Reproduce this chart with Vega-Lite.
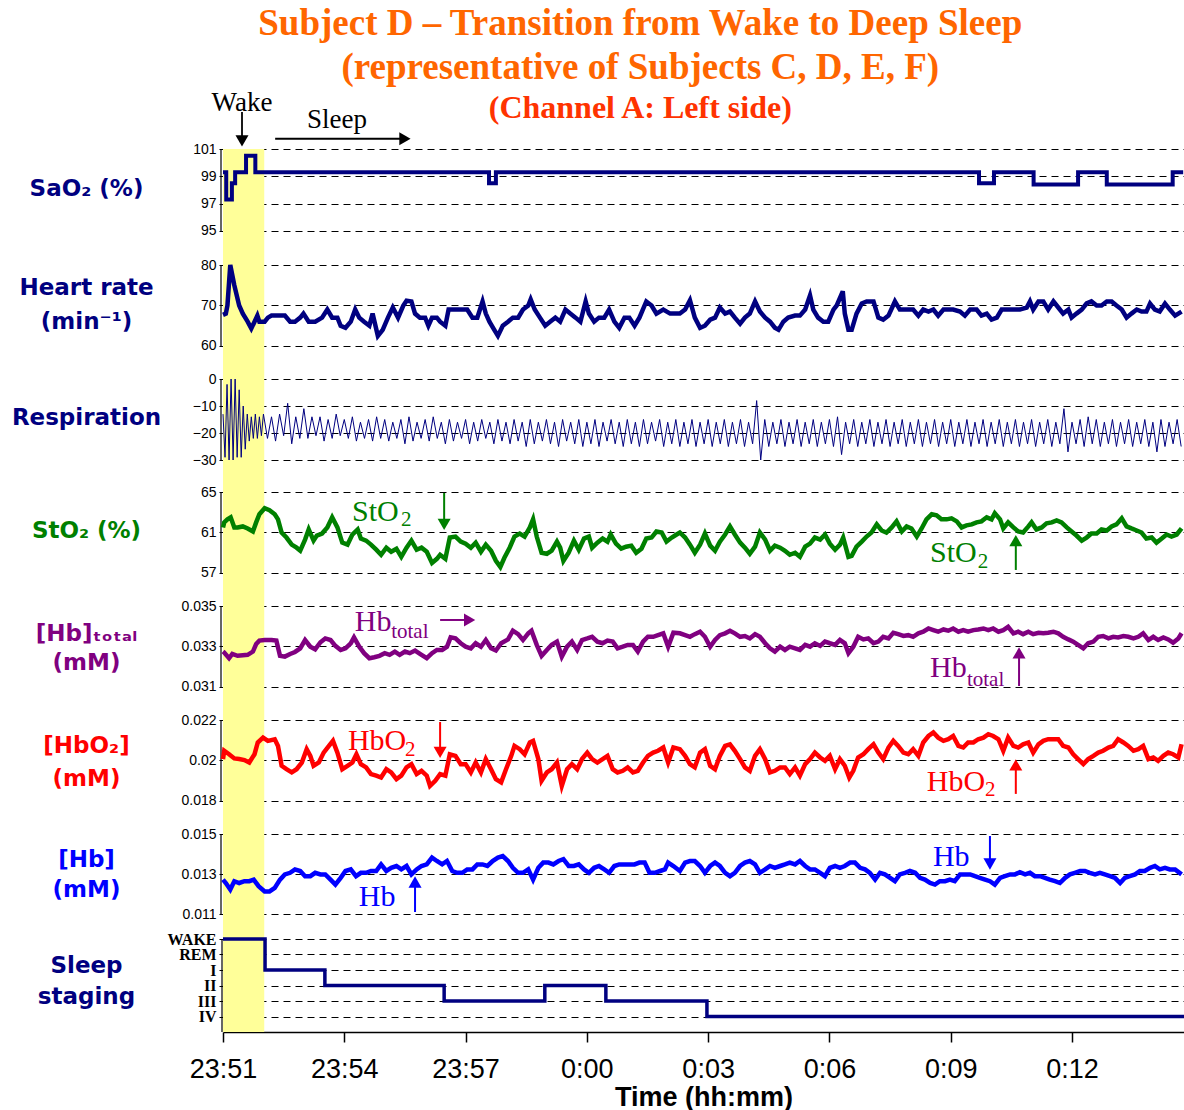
{
"$schema":"https://vega.github.io/schema/vega-lite/v6.json",
"padding":{"left":11,"top":4,"right":0,"bottom":0},
"background":"white",
"title":{"text":["Subject D – Transition from Wake to Deep Sleep","(representative of Subjects C, D, E, F)"],"subtitle":"(Channel A: Left side)","font":"Liberation Serif","fontSize":37,"fontWeight":"bold","color":"#FF6600","lineHeight":44,"subtitleFont":"Liberation Serif","subtitleFontSize":32,"subtitleFontWeight":"bold","subtitleColor":"#FF3300","subtitlePadding":6,"anchor":"middle","offset":-36,"dx":39},
"datasets":{
"sao2":[{"t":0,"v":99.3},{"t":0.08,"v":97.3},{"t":0.22,"v":98.5},{"t":0.3,"v":99.3},{"t":0.57,"v":100.5},{"t":0.8,"v":99.3},{"t":6.58,"v":98.5},{"t":6.75,"v":99.3},{"t":18.7,"v":98.5},{"t":19.07,"v":99.3},{"t":20.05,"v":98.4},{"t":21.15,"v":99.3},{"t":21.86,"v":98.4},{"t":23.49,"v":99.3},{"t":23.75,"v":99.3}],
"hr":[{"t":0,"v":67.7},{"t":0.07,"v":68},{"t":0.11,"v":70},{"t":0.18,"v":80},{"t":0.28,"v":75},{"t":0.4,"v":70},{"t":0.49,"v":68},{"t":0.61,"v":66},{"t":0.7,"v":64.3},{"t":0.78,"v":66},{"t":0.85,"v":67.5},{"t":0.9,"v":66},{"t":1.03,"v":66},{"t":1.11,"v":67},{"t":1.2,"v":67.5},{"t":1.36,"v":67.5},{"t":1.53,"v":67.5},{"t":1.66,"v":66},{"t":1.78,"v":66},{"t":1.91,"v":67},{"t":1.99,"v":68},{"t":2.12,"v":66},{"t":2.28,"v":66},{"t":2.45,"v":67},{"t":2.58,"v":69},{"t":2.7,"v":67},{"t":2.83,"v":67},{"t":2.91,"v":65},{"t":3.03,"v":64.5},{"t":3.16,"v":66},{"t":3.27,"v":69},{"t":3.37,"v":67},{"t":3.49,"v":66},{"t":3.62,"v":65},{"t":3.7,"v":68},{"t":3.83,"v":62.5},{"t":3.95,"v":64},{"t":4.08,"v":67},{"t":4.2,"v":69.5},{"t":4.33,"v":67},{"t":4.46,"v":70},{"t":4.54,"v":71.2},{"t":4.66,"v":71},{"t":4.75,"v":68},{"t":4.87,"v":67},{"t":5,"v":67},{"t":5.08,"v":65},{"t":5.17,"v":67},{"t":5.29,"v":67},{"t":5.37,"v":66},{"t":5.5,"v":65},{"t":5.58,"v":69},{"t":5.71,"v":69},{"t":5.88,"v":69},{"t":6.04,"v":69},{"t":6.17,"v":67},{"t":6.29,"v":67},{"t":6.42,"v":71},{"t":6.5,"v":68},{"t":6.59,"v":66},{"t":6.71,"v":64},{"t":6.8,"v":62.5},{"t":6.92,"v":65},{"t":7.05,"v":66},{"t":7.17,"v":67},{"t":7.3,"v":67},{"t":7.42,"v":69},{"t":7.55,"v":70},{"t":7.61,"v":71.5},{"t":7.71,"v":69},{"t":7.84,"v":67},{"t":7.97,"v":65},{"t":8.09,"v":66},{"t":8.22,"v":67},{"t":8.34,"v":66},{"t":8.47,"v":69},{"t":8.59,"v":68},{"t":8.72,"v":67},{"t":8.84,"v":66},{"t":8.97,"v":71},{"t":9.05,"v":68},{"t":9.18,"v":66},{"t":9.3,"v":67},{"t":9.43,"v":67},{"t":9.55,"v":69},{"t":9.68,"v":66},{"t":9.8,"v":64.5},{"t":9.93,"v":67},{"t":10.05,"v":67},{"t":10.18,"v":65},{"t":10.3,"v":67},{"t":10.47,"v":71},{"t":10.6,"v":70},{"t":10.72,"v":68},{"t":10.89,"v":69},{"t":11.06,"v":68},{"t":11.22,"v":68},{"t":11.3,"v":68},{"t":11.43,"v":69},{"t":11.55,"v":71.3},{"t":11.67,"v":67},{"t":11.8,"v":64.5},{"t":11.92,"v":65},{"t":12.05,"v":66.5},{"t":12.17,"v":67},{"t":12.29,"v":69.5},{"t":12.42,"v":68},{"t":12.54,"v":68.5},{"t":12.66,"v":67},{"t":12.79,"v":65.5},{"t":12.91,"v":67},{"t":13.03,"v":68},{"t":13.16,"v":71},{"t":13.28,"v":68.5},{"t":13.41,"v":67},{"t":13.53,"v":66},{"t":13.65,"v":64.5},{"t":13.74,"v":64},{"t":13.86,"v":66},{"t":13.98,"v":67},{"t":14.15,"v":67.5},{"t":14.27,"v":67.5},{"t":14.4,"v":69},{"t":14.52,"v":72.5},{"t":14.6,"v":69},{"t":14.72,"v":67},{"t":14.85,"v":66},{"t":14.97,"v":66},{"t":15.1,"v":69},{"t":15.18,"v":70},{"t":15.33,"v":73.5},{"t":15.38,"v":68},{"t":15.47,"v":64},{"t":15.55,"v":64},{"t":15.67,"v":68},{"t":15.8,"v":70.5},{"t":15.92,"v":71},{"t":16.09,"v":71},{"t":16.21,"v":67},{"t":16.33,"v":66.5},{"t":16.46,"v":67.5},{"t":16.62,"v":71},{"t":16.74,"v":69},{"t":16.91,"v":69},{"t":17.07,"v":69},{"t":17.2,"v":67.5},{"t":17.32,"v":69},{"t":17.45,"v":68.5},{"t":17.57,"v":69},{"t":17.69,"v":67.5},{"t":17.82,"v":69},{"t":17.94,"v":69},{"t":18.06,"v":69},{"t":18.23,"v":68.5},{"t":18.35,"v":67.5},{"t":18.48,"v":69},{"t":18.64,"v":69},{"t":18.76,"v":67.5},{"t":18.89,"v":68},{"t":19.01,"v":66.5},{"t":19.14,"v":67},{"t":19.26,"v":69},{"t":19.42,"v":69},{"t":19.55,"v":69},{"t":19.71,"v":69},{"t":19.88,"v":69.5},{"t":19.96,"v":71},{"t":20.04,"v":69},{"t":20.17,"v":71},{"t":20.29,"v":71},{"t":20.41,"v":69},{"t":20.54,"v":71},{"t":20.66,"v":69.5},{"t":20.78,"v":68},{"t":20.91,"v":69},{"t":20.99,"v":67},{"t":21.11,"v":68},{"t":21.24,"v":69},{"t":21.36,"v":70.5},{"t":21.48,"v":71},{"t":21.61,"v":70},{"t":21.73,"v":70},{"t":21.86,"v":71},{"t":21.98,"v":71},{"t":22.1,"v":70},{"t":22.23,"v":69},{"t":22.35,"v":67},{"t":22.47,"v":68},{"t":22.6,"v":69},{"t":22.72,"v":68.5},{"t":22.84,"v":68.5},{"t":22.93,"v":70.5},{"t":23.05,"v":69},{"t":23.17,"v":68.5},{"t":23.3,"v":70.5},{"t":23.42,"v":69},{"t":23.55,"v":67.5},{"t":23.71,"v":68.5}],
"resp":[{"t":0,"v":-13},{"t":0.05,"v":-29},{"t":0.1,"v":-2},{"t":0.15,"v":-30},{"t":0.2,"v":0},{"t":0.25,"v":-30},{"t":0.3,"v":0},{"t":0.35,"v":-29},{"t":0.4,"v":-4},{"t":0.45,"v":-29},{"t":0.5,"v":-10},{"t":0.55,"v":-26},{"t":0.6,"v":-13},{"t":0.65,"v":-23},{"t":0.7,"v":-14},{"t":0.75,"v":-22},{"t":0.8,"v":-13},{"t":0.85,"v":-22},{"t":0.9,"v":-14},{"t":0.95,"v":-21},
{"t":1.0,"v":-13},{"t":1.1,"v":-22},{"t":1.2,"v":-14},{"t":1.3,"v":-23},{"t":1.4,"v":-13},{"t":1.5,"v":-21},{"t":1.6,"v":-9},{"t":1.7,"v":-24},{"t":1.8,"v":-14},{"t":1.9,"v":-22},
{"t":2.0,"v":-11},{"t":2.1,"v":-22},{"t":2.2,"v":-14},{"t":2.3,"v":-21},{"t":2.4,"v":-14},{"t":2.5,"v":-23},{"t":2.6,"v":-15},{"t":2.7,"v":-22},{"t":2.8,"v":-13},{"t":2.9,"v":-21},
{"t":3.0,"v":-15},{"t":3.1,"v":-22},{"t":3.2,"v":-14},{"t":3.3,"v":-23},{"t":3.4,"v":-16},{"t":3.5,"v":-22},{"t":3.6,"v":-15},{"t":3.7,"v":-23},{"t":3.8,"v":-14},{"t":3.9,"v":-22},
{"t":4.0,"v":-15},{"t":4.1,"v":-23},{"t":4.2,"v":-16},{"t":4.3,"v":-22},{"t":4.4,"v":-15},{"t":4.5,"v":-24},{"t":4.6,"v":-14},{"t":4.7,"v":-23},{"t":4.8,"v":-16},{"t":4.9,"v":-22},
{"t":5.0,"v":-15},{"t":5.1,"v":-23},{"t":5.2,"v":-14},{"t":5.3,"v":-22},{"t":5.4,"v":-16},{"t":5.5,"v":-24},{"t":5.6,"v":-15},{"t":5.7,"v":-23},{"t":5.8,"v":-16},{"t":5.9,"v":-22},
{"t":6.0,"v":-15},{"t":6.1,"v":-24},{"t":6.2,"v":-16},{"t":6.3,"v":-23},{"t":6.4,"v":-15},{"t":6.5,"v":-22},{"t":6.6,"v":-16},{"t":6.7,"v":-24},{"t":6.8,"v":-15},{"t":6.9,"v":-23},
{"t":7.0,"v":-16},{"t":7.1,"v":-24},{"t":7.2,"v":-15},{"t":7.3,"v":-23},{"t":7.4,"v":-16},{"t":7.5,"v":-25},{"t":7.6,"v":-15},{"t":7.7,"v":-24},{"t":7.8,"v":-16},{"t":7.9,"v":-23},
{"t":8.0,"v":-15},{"t":8.1,"v":-24},{"t":8.2,"v":-16},{"t":8.3,"v":-25},{"t":8.4,"v":-15},{"t":8.5,"v":-23},{"t":8.6,"v":-16},{"t":8.7,"v":-24},{"t":8.8,"v":-15},{"t":8.9,"v":-25},
{"t":9.0,"v":-16},{"t":9.1,"v":-24},{"t":9.2,"v":-15},{"t":9.3,"v":-25},{"t":9.4,"v":-16},{"t":9.5,"v":-23},{"t":9.6,"v":-15},{"t":9.7,"v":-24},{"t":9.8,"v":-16},{"t":9.9,"v":-25},
{"t":10.0,"v":-15},{"t":10.1,"v":-24},{"t":10.2,"v":-16},{"t":10.3,"v":-25},{"t":10.4,"v":-15},{"t":10.5,"v":-24},{"t":10.6,"v":-16},{"t":10.7,"v":-23},{"t":10.8,"v":-15},{"t":10.9,"v":-25},
{"t":11.0,"v":-16},{"t":11.1,"v":-24},{"t":11.2,"v":-15},{"t":11.3,"v":-25},{"t":11.4,"v":-16},{"t":11.5,"v":-24},{"t":11.6,"v":-15},{"t":11.7,"v":-25},{"t":11.8,"v":-16},{"t":11.9,"v":-24},
{"t":12.0,"v":-15},{"t":12.1,"v":-25},{"t":12.2,"v":-16},{"t":12.3,"v":-24},{"t":12.4,"v":-15},{"t":12.5,"v":-25},{"t":12.6,"v":-16},{"t":12.7,"v":-24},{"t":12.8,"v":-15},{"t":12.9,"v":-25},
{"t":13.0,"v":-16},{"t":13.1,"v":-24},{"t":13.2,"v":-8},{"t":13.3,"v":-30},{"t":13.4,"v":-15},{"t":13.5,"v":-25},{"t":13.6,"v":-16},{"t":13.7,"v":-24},{"t":13.8,"v":-15},{"t":13.9,"v":-25},
{"t":14.0,"v":-16},{"t":14.1,"v":-24},{"t":14.2,"v":-15},{"t":14.3,"v":-25},{"t":14.4,"v":-16},{"t":14.5,"v":-24},{"t":14.6,"v":-15},{"t":14.7,"v":-25},{"t":14.8,"v":-16},{"t":14.9,"v":-24},
{"t":15.0,"v":-15},{"t":15.1,"v":-25},{"t":15.2,"v":-14},{"t":15.3,"v":-28},{"t":15.4,"v":-16},{"t":15.5,"v":-24},{"t":15.6,"v":-15},{"t":15.7,"v":-25},{"t":15.8,"v":-16},{"t":15.9,"v":-24},
{"t":16.0,"v":-15},{"t":16.1,"v":-25},{"t":16.2,"v":-16},{"t":16.3,"v":-24},{"t":16.4,"v":-15},{"t":16.5,"v":-25},{"t":16.6,"v":-16},{"t":16.7,"v":-24},{"t":16.8,"v":-15},{"t":16.9,"v":-25},
{"t":17.0,"v":-16},{"t":17.1,"v":-24},{"t":17.2,"v":-15},{"t":17.3,"v":-25},{"t":17.4,"v":-16},{"t":17.5,"v":-24},{"t":17.6,"v":-15},{"t":17.7,"v":-25},{"t":17.8,"v":-16},{"t":17.9,"v":-24},
{"t":18.0,"v":-15},{"t":18.1,"v":-25},{"t":18.2,"v":-16},{"t":18.3,"v":-24},{"t":18.4,"v":-15},{"t":18.5,"v":-25},{"t":18.6,"v":-16},{"t":18.7,"v":-24},{"t":18.8,"v":-15},{"t":18.9,"v":-25},
{"t":19.0,"v":-16},{"t":19.1,"v":-24},{"t":19.2,"v":-15},{"t":19.3,"v":-25},{"t":19.4,"v":-16},{"t":19.5,"v":-24},{"t":19.6,"v":-15},{"t":19.7,"v":-25},{"t":19.8,"v":-16},{"t":19.9,"v":-24},
{"t":20.0,"v":-15},{"t":20.1,"v":-25},{"t":20.2,"v":-16},{"t":20.3,"v":-24},{"t":20.4,"v":-15},{"t":20.5,"v":-25},{"t":20.6,"v":-16},{"t":20.7,"v":-24},{"t":20.8,"v":-11},{"t":20.9,"v":-27},
{"t":21.0,"v":-16},{"t":21.1,"v":-24},{"t":21.2,"v":-15},{"t":21.3,"v":-25},{"t":21.4,"v":-14},{"t":21.5,"v":-24},{"t":21.6,"v":-15},{"t":21.7,"v":-25},{"t":21.8,"v":-16},{"t":21.9,"v":-24},
{"t":22.0,"v":-15},{"t":22.1,"v":-25},{"t":22.2,"v":-16},{"t":22.3,"v":-24},{"t":22.4,"v":-15},{"t":22.5,"v":-25},{"t":22.6,"v":-16},{"t":22.7,"v":-24},{"t":22.8,"v":-15},{"t":22.9,"v":-25},
{"t":23.0,"v":-16},{"t":23.1,"v":-27},{"t":23.2,"v":-15},{"t":23.3,"v":-25},{"t":23.4,"v":-16},{"t":23.5,"v":-24},{"t":23.6,"v":-15},{"t":23.7,"v":-25}],
"sto2":[{"t":0,"v":61.5},{"t":0.03,"v":62.0},{"t":0.11,"v":62.3},{"t":0.19,"v":62.5},{"t":0.28,"v":61.5},{"t":0.36,"v":61.5},{"t":0.49,"v":61.6},{"t":0.61,"v":61.4},{"t":0.74,"v":61.1},{"t":0.82,"v":62.0},{"t":0.9,"v":62.8},{"t":1.03,"v":63.4},{"t":1.15,"v":63.2},{"t":1.28,"v":62.8},{"t":1.36,"v":62.3},{"t":1.45,"v":61.0},{"t":1.57,"v":60.5},{"t":1.7,"v":59.8},{"t":1.82,"v":59.5},{"t":1.91,"v":59.2},{"t":2.03,"v":60.3},{"t":2.12,"v":61.3},{"t":2.24,"v":60.2},{"t":2.32,"v":60.7},{"t":2.45,"v":60.9},{"t":2.58,"v":61.5},{"t":2.7,"v":62.5},{"t":2.83,"v":61.5},{"t":2.95,"v":60.0},{"t":3.08,"v":59.8},{"t":3.2,"v":60.8},{"t":3.33,"v":61.3},{"t":3.41,"v":60.4},{"t":3.54,"v":60.2},{"t":3.66,"v":59.8},{"t":3.79,"v":59.3},{"t":3.91,"v":58.8},{"t":4.04,"v":59.5},{"t":4.16,"v":59.1},{"t":4.29,"v":59.4},{"t":4.41,"v":58.6},{"t":4.54,"v":59.5},{"t":4.66,"v":60.2},{"t":4.79,"v":59.3},{"t":4.91,"v":59.5},{"t":5.04,"v":59.1},{"t":5.17,"v":58.0},{"t":5.29,"v":58.4},{"t":5.37,"v":58.8},{"t":5.5,"v":58.4},{"t":5.61,"v":60.5},{"t":5.75,"v":60.6},{"t":5.88,"v":60.1},{"t":6.0,"v":59.9},{"t":6.13,"v":59.5},{"t":6.25,"v":60.0},{"t":6.38,"v":59.1},{"t":6.5,"v":59.8},{"t":6.63,"v":59.2},{"t":6.75,"v":58.2},{"t":6.86,"v":57.6},{"t":6.96,"v":58.5},{"t":7.09,"v":59.5},{"t":7.21,"v":60.6},{"t":7.34,"v":60.9},{"t":7.46,"v":60.6},{"t":7.59,"v":61.5},{"t":7.67,"v":62.3},{"t":7.76,"v":60.6},{"t":7.88,"v":59.0},{"t":8.01,"v":58.9},{"t":8.13,"v":59.2},{"t":8.26,"v":60.1},{"t":8.34,"v":59.5},{"t":8.42,"v":58.2},{"t":8.55,"v":59.0},{"t":8.68,"v":60.2},{"t":8.8,"v":59.3},{"t":8.93,"v":60.4},{"t":9.05,"v":60.6},{"t":9.13,"v":59.5},{"t":9.26,"v":60.0},{"t":9.39,"v":60.4},{"t":9.51,"v":60.1},{"t":9.59,"v":60.8},{"t":9.72,"v":59.9},{"t":9.85,"v":59.4},{"t":9.97,"v":59.6},{"t":10.1,"v":59.7},{"t":10.22,"v":59.0},{"t":10.35,"v":59.4},{"t":10.47,"v":60.4},{"t":10.6,"v":60.5},{"t":10.72,"v":61.1},{"t":10.85,"v":61.0},{"t":10.97,"v":60.1},{"t":11.1,"v":60.5},{"t":11.22,"v":60.8},{"t":11.3,"v":61.0},{"t":11.43,"v":60.5},{"t":11.55,"v":59.8},{"t":11.67,"v":59.0},{"t":11.8,"v":59.8},{"t":11.92,"v":60.9},{"t":12.05,"v":59.7},{"t":12.17,"v":59.2},{"t":12.29,"v":60.1},{"t":12.42,"v":60.8},{"t":12.54,"v":61.6},{"t":12.66,"v":60.8},{"t":12.79,"v":60.0},{"t":12.91,"v":59.5},{"t":13.03,"v":58.9},{"t":13.16,"v":59.6},{"t":13.28,"v":61.0},{"t":13.41,"v":60.3},{"t":13.53,"v":59.2},{"t":13.65,"v":59.7},{"t":13.78,"v":59.5},{"t":13.9,"v":59.2},{"t":14.02,"v":58.8},{"t":14.15,"v":59.0},{"t":14.27,"v":58.6},{"t":14.4,"v":59.6},{"t":14.52,"v":59.9},{"t":14.64,"v":60.5},{"t":14.77,"v":60.3},{"t":14.89,"v":60.8},{"t":15.01,"v":59.9},{"t":15.14,"v":59.3},{"t":15.26,"v":59.8},{"t":15.34,"v":60.5},{"t":15.47,"v":58.6},{"t":15.55,"v":58.7},{"t":15.67,"v":59.6},{"t":15.8,"v":60.1},{"t":15.92,"v":60.6},{"t":16.04,"v":61.0},{"t":16.17,"v":61.8},{"t":16.29,"v":61.2},{"t":16.41,"v":61.0},{"t":16.54,"v":61.5},{"t":16.66,"v":62.1},{"t":16.79,"v":61.1},{"t":16.91,"v":61.6},{"t":17.03,"v":61.4},{"t":17.16,"v":60.6},{"t":17.28,"v":61.4},{"t":17.4,"v":62.3},{"t":17.53,"v":62.8},{"t":17.65,"v":62.7},{"t":17.77,"v":62.3},{"t":17.9,"v":62.3},{"t":18.02,"v":62.4},{"t":18.15,"v":62.1},{"t":18.27,"v":61.5},{"t":18.39,"v":61.7},{"t":18.52,"v":61.8},{"t":18.64,"v":62.0},{"t":18.76,"v":62.1},{"t":18.89,"v":62.5},{"t":19.01,"v":62.3},{"t":19.09,"v":62.9},{"t":19.22,"v":62.3},{"t":19.3,"v":61.4},{"t":19.42,"v":62.0},{"t":19.55,"v":61.5},{"t":19.67,"v":61.1},{"t":19.79,"v":61.0},{"t":19.92,"v":61.6},{"t":20.0,"v":62.0},{"t":20.12,"v":61.3},{"t":20.25,"v":61.5},{"t":20.37,"v":61.9},{"t":20.5,"v":62.0},{"t":20.62,"v":62.2},{"t":20.74,"v":62.0},{"t":20.87,"v":61.5},{"t":20.99,"v":61.1},{"t":21.11,"v":60.7},{"t":21.24,"v":60.2},{"t":21.36,"v":60.5},{"t":21.48,"v":60.9},{"t":21.61,"v":60.9},{"t":21.73,"v":61.3},{"t":21.86,"v":61.2},{"t":21.98,"v":61.6},{"t":22.1,"v":61.8},{"t":22.23,"v":62.4},{"t":22.35,"v":61.6},{"t":22.47,"v":61.4},{"t":22.6,"v":61.2},{"t":22.72,"v":61.0},{"t":22.84,"v":60.4},{"t":22.97,"v":60.5},{"t":23.09,"v":60.0},{"t":23.22,"v":60.4},{"t":23.34,"v":60.8},{"t":23.46,"v":60.6},{"t":23.59,"v":60.8},{"t":23.71,"v":61.4}],
"hbt":[{"t":0,"v":0.03275},{"t":0.03,"v":0.0327},{"t":0.15,"v":0.03242},{"t":0.23,"v":0.03263},{"t":0.36,"v":0.03254},{"t":0.49,"v":0.03257},{"t":0.61,"v":0.03259},{"t":0.74,"v":0.03275},{"t":0.82,"v":0.03312},{"t":0.9,"v":0.03329},{"t":1.03,"v":0.03332},{"t":1.2,"v":0.03332},{"t":1.32,"v":0.03329},{"t":1.41,"v":0.03254},{"t":1.53,"v":0.0325},{"t":1.66,"v":0.03263},{"t":1.78,"v":0.03273},{"t":1.91,"v":0.03291},{"t":2.03,"v":0.03332},{"t":2.16,"v":0.03299},{"t":2.28,"v":0.03286},{"t":2.41,"v":0.03321},{"t":2.53,"v":0.0334},{"t":2.66,"v":0.03332},{"t":2.78,"v":0.03303},{"t":2.91,"v":0.03283},{"t":3.03,"v":0.03291},{"t":3.16,"v":0.03316},{"t":3.24,"v":0.03345},{"t":3.37,"v":0.03299},{"t":3.49,"v":0.03267},{"t":3.62,"v":0.03242},{"t":3.74,"v":0.03247},{"t":3.87,"v":0.03254},{"t":4.0,"v":0.03267},{"t":4.12,"v":0.03259},{"t":4.25,"v":0.03275},{"t":4.37,"v":0.03259},{"t":4.5,"v":0.03275},{"t":4.62,"v":0.03267},{"t":4.75,"v":0.0328},{"t":4.91,"v":0.03259},{"t":5.04,"v":0.03242},{"t":5.17,"v":0.03267},{"t":5.29,"v":0.03283},{"t":5.42,"v":0.03283},{"t":5.54,"v":0.03299},{"t":5.63,"v":0.03345},{"t":5.75,"v":0.0334},{"t":5.88,"v":0.03316},{"t":6.0,"v":0.03299},{"t":6.13,"v":0.03291},{"t":6.25,"v":0.03316},{"t":6.38,"v":0.03299},{"t":6.5,"v":0.03332},{"t":6.63,"v":0.03291},{"t":6.75,"v":0.0328},{"t":6.88,"v":0.03316},{"t":7.05,"v":0.03335},{"t":7.17,"v":0.03378},{"t":7.3,"v":0.03361},{"t":7.42,"v":0.03332},{"t":7.55,"v":0.03365},{"t":7.63,"v":0.03378},{"t":7.76,"v":0.03308},{"t":7.88,"v":0.03254},{"t":8.01,"v":0.03283},{"t":8.13,"v":0.03308},{"t":8.26,"v":0.03324},{"t":8.38,"v":0.0325},{"t":8.51,"v":0.03299},{"t":8.63,"v":0.03324},{"t":8.76,"v":0.03283},{"t":8.88,"v":0.03332},{"t":9.01,"v":0.0334},{"t":9.13,"v":0.03348},{"t":9.26,"v":0.03324},{"t":9.39,"v":0.03316},{"t":9.51,"v":0.03329},{"t":9.64,"v":0.03324},{"t":9.76,"v":0.03291},{"t":9.89,"v":0.03299},{"t":10.01,"v":0.03308},{"t":10.14,"v":0.03308},{"t":10.26,"v":0.03275},{"t":10.39,"v":0.03324},{"t":10.51,"v":0.03348},{"t":10.64,"v":0.03348},{"t":10.76,"v":0.03356},{"t":10.89,"v":0.03365},{"t":11.01,"v":0.03299},{"t":11.14,"v":0.03368},{"t":11.3,"v":0.03365},{"t":11.43,"v":0.03356},{"t":11.55,"v":0.03348},{"t":11.67,"v":0.03361},{"t":11.8,"v":0.03373},{"t":11.92,"v":0.03348},{"t":12.05,"v":0.03299},{"t":12.17,"v":0.03332},{"t":12.29,"v":0.03356},{"t":12.42,"v":0.03365},{"t":12.54,"v":0.03378},{"t":12.66,"v":0.03365},{"t":12.79,"v":0.03348},{"t":12.91,"v":0.03352},{"t":13.03,"v":0.0334},{"t":13.16,"v":0.03361},{"t":13.28,"v":0.03348},{"t":13.41,"v":0.03316},{"t":13.53,"v":0.03291},{"t":13.65,"v":0.03275},{"t":13.78,"v":0.03299},{"t":13.9,"v":0.03283},{"t":14.02,"v":0.03299},{"t":14.15,"v":0.03291},{"t":14.27,"v":0.03283},{"t":14.4,"v":0.03308},{"t":14.52,"v":0.03299},{"t":14.64,"v":0.03316},{"t":14.77,"v":0.03303},{"t":14.89,"v":0.03324},{"t":15.01,"v":0.03316},{"t":15.14,"v":0.03308},{"t":15.26,"v":0.03332},{"t":15.38,"v":0.03316},{"t":15.47,"v":0.03267},{"t":15.59,"v":0.03299},{"t":15.71,"v":0.03348},{"t":15.84,"v":0.03335},{"t":15.96,"v":0.0334},{"t":16.09,"v":0.03316},{"t":16.21,"v":0.03324},{"t":16.33,"v":0.03348},{"t":16.46,"v":0.0334},{"t":16.58,"v":0.03368},{"t":16.7,"v":0.03361},{"t":16.83,"v":0.03352},{"t":16.95,"v":0.03356},{"t":17.07,"v":0.03348},{"t":17.2,"v":0.03365},{"t":17.32,"v":0.03373},{"t":17.45,"v":0.03389},{"t":17.57,"v":0.03381},{"t":17.69,"v":0.03373},{"t":17.82,"v":0.03384},{"t":17.94,"v":0.03378},{"t":18.06,"v":0.03389},{"t":18.19,"v":0.03373},{"t":18.31,"v":0.03381},{"t":18.43,"v":0.03373},{"t":18.56,"v":0.03381},{"t":18.68,"v":0.03384},{"t":18.81,"v":0.03389},{"t":18.93,"v":0.03381},{"t":19.05,"v":0.03389},{"t":19.18,"v":0.03373},{"t":19.3,"v":0.03381},{"t":19.42,"v":0.03397},{"t":19.55,"v":0.03365},{"t":19.67,"v":0.03373},{"t":19.79,"v":0.03361},{"t":19.92,"v":0.03373},{"t":20.04,"v":0.03361},{"t":20.17,"v":0.03368},{"t":20.29,"v":0.03365},{"t":20.41,"v":0.03368},{"t":20.54,"v":0.03373},{"t":20.66,"v":0.03365},{"t":20.78,"v":0.03348},{"t":20.91,"v":0.03335},{"t":21.03,"v":0.03324},{"t":21.15,"v":0.03308},{"t":21.28,"v":0.03291},{"t":21.4,"v":0.03316},{"t":21.53,"v":0.03324},{"t":21.65,"v":0.03348},{"t":21.77,"v":0.03352},{"t":21.9,"v":0.0334},{"t":22.02,"v":0.03348},{"t":22.14,"v":0.03345},{"t":22.27,"v":0.03352},{"t":22.39,"v":0.03348},{"t":22.52,"v":0.0334},{"t":22.64,"v":0.03348},{"t":22.76,"v":0.03365},{"t":22.89,"v":0.03332},{"t":23.01,"v":0.03348},{"t":23.13,"v":0.03332},{"t":23.26,"v":0.03345},{"t":23.38,"v":0.03335},{"t":23.5,"v":0.03319},{"t":23.63,"v":0.0334},{"t":23.71,"v":0.03365}],
"hbo2":[{"t":0,"v":0.02007},{"t":0.03,"v":0.02048},{"t":0.15,"v":0.02031},{"t":0.28,"v":0.0201},{"t":0.4,"v":0.02007},{"t":0.53,"v":0.02002},{"t":0.65,"v":0.0199},{"t":0.78,"v":0.02031},{"t":0.86,"v":0.02089},{"t":0.99,"v":0.02113},{"t":1.11,"v":0.02097},{"t":1.28,"v":0.02105},{"t":1.36,"v":0.02072},{"t":1.45,"v":0.01974},{"t":1.57,"v":0.01957},{"t":1.7,"v":0.01941},{"t":1.82,"v":0.01957},{"t":1.95,"v":0.0199},{"t":2.07,"v":0.02056},{"t":2.16,"v":0.02023},{"t":2.24,"v":0.01974},{"t":2.37,"v":0.0199},{"t":2.49,"v":0.02039},{"t":2.62,"v":0.02072},{"t":2.72,"v":0.02097},{"t":2.83,"v":0.02039},{"t":2.95,"v":0.01957},{"t":3.08,"v":0.01974},{"t":3.2,"v":0.0199},{"t":3.3,"v":0.02031},{"t":3.41,"v":0.01982},{"t":3.54,"v":0.01966},{"t":3.66,"v":0.01933},{"t":3.79,"v":0.01925},{"t":3.91,"v":0.01916},{"t":4.04,"v":0.01957},{"t":4.16,"v":0.01941},{"t":4.29,"v":0.01908},{"t":4.41,"v":0.01925},{"t":4.54,"v":0.01966},{"t":4.66,"v":0.01982},{"t":4.79,"v":0.01933},{"t":4.91,"v":0.01949},{"t":5.04,"v":0.01925},{"t":5.12,"v":0.01875},{"t":5.25,"v":0.019},{"t":5.37,"v":0.01933},{"t":5.5,"v":0.01925},{"t":5.61,"v":0.02031},{"t":5.75,"v":0.02023},{"t":5.88,"v":0.01982},{"t":6.0,"v":0.01982},{"t":6.13,"v":0.01941},{"t":6.25,"v":0.0199},{"t":6.38,"v":0.01941},{"t":6.5,"v":0.02007},{"t":6.63,"v":0.01957},{"t":6.75,"v":0.01908},{"t":6.88,"v":0.01892},{"t":7.0,"v":0.01957},{"t":7.13,"v":0.02023},{"t":7.21,"v":0.02072},{"t":7.34,"v":0.02056},{"t":7.46,"v":0.02031},{"t":7.59,"v":0.02089},{"t":7.67,"v":0.02097},{"t":7.8,"v":0.02007},{"t":7.88,"v":0.019},{"t":8.01,"v":0.01941},{"t":8.13,"v":0.01957},{"t":8.26,"v":0.0199},{"t":8.38,"v":0.01875},{"t":8.51,"v":0.01957},{"t":8.63,"v":0.01982},{"t":8.76,"v":0.01957},{"t":8.88,"v":0.02007},{"t":9.01,"v":0.02039},{"t":9.13,"v":0.02007},{"t":9.26,"v":0.0199},{"t":9.39,"v":0.02007},{"t":9.51,"v":0.02023},{"t":9.64,"v":0.01957},{"t":9.76,"v":0.01941},{"t":9.89,"v":0.01949},{"t":10.01,"v":0.01966},{"t":10.14,"v":0.01941},{"t":10.26,"v":0.01949},{"t":10.39,"v":0.0199},{"t":10.51,"v":0.02023},{"t":10.64,"v":0.02039},{"t":10.76,"v":0.02048},{"t":10.89,"v":0.02064},{"t":11.01,"v":0.0199},{"t":11.14,"v":0.02064},{"t":11.3,"v":0.02056},{"t":11.43,"v":0.02023},{"t":11.55,"v":0.01982},{"t":11.67,"v":0.01966},{"t":11.8,"v":0.02039},{"t":11.92,"v":0.02056},{"t":12.05,"v":0.01974},{"t":12.17,"v":0.01957},{"t":12.29,"v":0.02023},{"t":12.42,"v":0.02072},{"t":12.54,"v":0.0208},{"t":12.66,"v":0.02048},{"t":12.79,"v":0.02007},{"t":12.91,"v":0.01966},{"t":13.03,"v":0.01949},{"t":13.16,"v":0.02023},{"t":13.28,"v":0.02056},{"t":13.41,"v":0.02007},{"t":13.53,"v":0.01941},{"t":13.65,"v":0.01949},{"t":13.78,"v":0.01966},{"t":13.9,"v":0.01966},{"t":14.02,"v":0.01933},{"t":14.15,"v":0.01966},{"t":14.27,"v":0.01925},{"t":14.4,"v":0.01982},{"t":14.52,"v":0.02007},{"t":14.64,"v":0.02039},{"t":14.77,"v":0.02015},{"t":14.89,"v":0.01998},{"t":15.01,"v":0.02023},{"t":15.14,"v":0.01957},{"t":15.26,"v":0.02007},{"t":15.38,"v":0.01974},{"t":15.49,"v":0.01916},{"t":15.59,"v":0.01949},{"t":15.71,"v":0.02015},{"t":15.84,"v":0.02031},{"t":15.96,"v":0.02056},{"t":16.09,"v":0.0208},{"t":16.21,"v":0.02039},{"t":16.33,"v":0.02007},{"t":16.46,"v":0.02064},{"t":16.58,"v":0.02097},{"t":16.7,"v":0.02072},{"t":16.83,"v":0.02039},{"t":16.95,"v":0.02031},{"t":17.07,"v":0.02056},{"t":17.2,"v":0.02023},{"t":17.32,"v":0.02089},{"t":17.45,"v":0.02121},{"t":17.57,"v":0.02138},{"t":17.69,"v":0.02113},{"t":17.82,"v":0.02097},{"t":17.94,"v":0.02105},{"t":18.06,"v":0.02121},{"t":18.19,"v":0.02072},{"t":18.31,"v":0.02064},{"t":18.43,"v":0.02089},{"t":18.56,"v":0.02089},{"t":18.68,"v":0.02105},{"t":18.81,"v":0.02113},{"t":18.93,"v":0.0213},{"t":19.05,"v":0.02121},{"t":19.18,"v":0.02105},{"t":19.3,"v":0.02048},{"t":19.42,"v":0.02113},{"t":19.55,"v":0.02072},{"t":19.67,"v":0.02064},{"t":19.79,"v":0.0208},{"t":19.92,"v":0.02089},{"t":20.04,"v":0.02039},{"t":20.17,"v":0.0208},{"t":20.29,"v":0.02097},{"t":20.41,"v":0.02105},{"t":20.54,"v":0.02105},{"t":20.66,"v":0.02105},{"t":20.78,"v":0.02072},{"t":20.91,"v":0.02064},{"t":21.03,"v":0.02031},{"t":21.15,"v":0.02007},{"t":21.28,"v":0.01982},{"t":21.4,"v":0.02007},{"t":21.53,"v":0.02023},{"t":21.65,"v":0.02039},{"t":21.77,"v":0.02048},{"t":21.9,"v":0.02064},{"t":22.02,"v":0.02072},{"t":22.14,"v":0.02105},{"t":22.27,"v":0.02089},{"t":22.39,"v":0.02072},{"t":22.52,"v":0.02048},{"t":22.64,"v":0.02056},{"t":22.76,"v":0.02072},{"t":22.89,"v":0.02007},{"t":23.01,"v":0.02015},{"t":23.13,"v":0.01998},{"t":23.26,"v":0.02023},{"t":23.38,"v":0.02039},{"t":23.5,"v":0.02031},{"t":23.63,"v":0.02015},{"t":23.71,"v":0.0208}],
"hb":[{"t":0,"v":0.01272},{"t":0.07,"v":0.01255},{"t":0.18,"v":0.01222},{"t":0.28,"v":0.01264},{"t":0.4,"v":0.01255},{"t":0.53,"v":0.01264},{"t":0.65,"v":0.01264},{"t":0.76,"v":0.01272},{"t":0.88,"v":0.01239},{"t":1.03,"v":0.01213},{"t":1.15,"v":0.01213},{"t":1.28,"v":0.0123},{"t":1.41,"v":0.01272},{"t":1.53,"v":0.01298},{"t":1.66,"v":0.01306},{"t":1.78,"v":0.01323},{"t":1.91,"v":0.01315},{"t":2.03,"v":0.01289},{"t":2.16,"v":0.01289},{"t":2.28,"v":0.01306},{"t":2.41,"v":0.01298},{"t":2.53,"v":0.01298},{"t":2.66,"v":0.01272},{"t":2.78,"v":0.01247},{"t":2.91,"v":0.01281},{"t":3.03,"v":0.01315},{"t":3.16,"v":0.01323},{"t":3.29,"v":0.01289},{"t":3.41,"v":0.01306},{"t":3.54,"v":0.01306},{"t":3.66,"v":0.01315},{"t":3.79,"v":0.01315},{"t":3.91,"v":0.01348},{"t":4.04,"v":0.01315},{"t":4.16,"v":0.01331},{"t":4.29,"v":0.0134},{"t":4.41,"v":0.01323},{"t":4.54,"v":0.0134},{"t":4.66,"v":0.01298},{"t":4.79,"v":0.01323},{"t":4.91,"v":0.0134},{"t":5.04,"v":0.01348},{"t":5.17,"v":0.01382},{"t":5.29,"v":0.01365},{"t":5.42,"v":0.01348},{"t":5.54,"v":0.01365},{"t":5.67,"v":0.01315},{"t":5.79,"v":0.01306},{"t":5.92,"v":0.01306},{"t":6.04,"v":0.01323},{"t":6.17,"v":0.01323},{"t":6.29,"v":0.01348},{"t":6.42,"v":0.01348},{"t":6.54,"v":0.0134},{"t":6.67,"v":0.01365},{"t":6.8,"v":0.01382},{"t":6.92,"v":0.0139},{"t":7.05,"v":0.01365},{"t":7.17,"v":0.01331},{"t":7.3,"v":0.01306},{"t":7.42,"v":0.01306},{"t":7.55,"v":0.01323},{"t":7.67,"v":0.01272},{"t":7.8,"v":0.01331},{"t":7.92,"v":0.01357},{"t":8.05,"v":0.01357},{"t":8.17,"v":0.01348},{"t":8.3,"v":0.01365},{"t":8.42,"v":0.01374},{"t":8.55,"v":0.0134},{"t":8.68,"v":0.0134},{"t":8.8,"v":0.01348},{"t":8.93,"v":0.01323},{"t":9.05,"v":0.01306},{"t":9.18,"v":0.01331},{"t":9.3,"v":0.0134},{"t":9.43,"v":0.01323},{"t":9.55,"v":0.01306},{"t":9.68,"v":0.0134},{"t":9.8,"v":0.01348},{"t":9.93,"v":0.01348},{"t":10.05,"v":0.01348},{"t":10.18,"v":0.01348},{"t":10.3,"v":0.01357},{"t":10.43,"v":0.01357},{"t":10.55,"v":0.01306},{"t":10.68,"v":0.01306},{"t":10.81,"v":0.01315},{"t":10.93,"v":0.01323},{"t":11.01,"v":0.01357},{"t":11.14,"v":0.0134},{"t":11.3,"v":0.01315},{"t":11.43,"v":0.01357},{"t":11.55,"v":0.01365},{"t":11.67,"v":0.01365},{"t":11.8,"v":0.0134},{"t":11.92,"v":0.01306},{"t":12.05,"v":0.0134},{"t":12.17,"v":0.01357},{"t":12.29,"v":0.0134},{"t":12.42,"v":0.01306},{"t":12.54,"v":0.01289},{"t":12.66,"v":0.01306},{"t":12.79,"v":0.0134},{"t":12.91,"v":0.01357},{"t":13.03,"v":0.01365},{"t":13.16,"v":0.01348},{"t":13.28,"v":0.01306},{"t":13.41,"v":0.01323},{"t":13.53,"v":0.0134},{"t":13.65,"v":0.01331},{"t":13.78,"v":0.0134},{"t":13.9,"v":0.01348},{"t":14.02,"v":0.01357},{"t":14.15,"v":0.01348},{"t":14.27,"v":0.01365},{"t":14.4,"v":0.0134},{"t":14.52,"v":0.01323},{"t":14.64,"v":0.01323},{"t":14.77,"v":0.01306},{"t":14.89,"v":0.01289},{"t":15.01,"v":0.01331},{"t":15.14,"v":0.0134},{"t":15.26,"v":0.01331},{"t":15.38,"v":0.0134},{"t":15.51,"v":0.01357},{"t":15.63,"v":0.01357},{"t":15.76,"v":0.01331},{"t":15.88,"v":0.01323},{"t":16.0,"v":0.01306},{"t":16.13,"v":0.01272},{"t":16.25,"v":0.01306},{"t":16.37,"v":0.01298},{"t":16.5,"v":0.01281},{"t":16.62,"v":0.01264},{"t":16.74,"v":0.01298},{"t":16.87,"v":0.01306},{"t":16.99,"v":0.01315},{"t":17.12,"v":0.01306},{"t":17.24,"v":0.01281},{"t":17.36,"v":0.01272},{"t":17.49,"v":0.01255},{"t":17.61,"v":0.01247},{"t":17.73,"v":0.01264},{"t":17.86,"v":0.01264},{"t":17.98,"v":0.01272},{"t":18.1,"v":0.01264},{"t":18.23,"v":0.01298},{"t":18.35,"v":0.01298},{"t":18.48,"v":0.01298},{"t":18.6,"v":0.01289},{"t":18.72,"v":0.01281},{"t":18.85,"v":0.01272},{"t":18.97,"v":0.01264},{"t":19.09,"v":0.01247},{"t":19.22,"v":0.01281},{"t":19.34,"v":0.01289},{"t":19.47,"v":0.01298},{"t":19.59,"v":0.01298},{"t":19.71,"v":0.01309},{"t":19.84,"v":0.01298},{"t":19.96,"v":0.01306},{"t":20.08,"v":0.01289},{"t":20.21,"v":0.01289},{"t":20.33,"v":0.01281},{"t":20.45,"v":0.01272},{"t":20.58,"v":0.01264},{"t":20.7,"v":0.01255},{"t":20.83,"v":0.01281},{"t":20.95,"v":0.01298},{"t":21.07,"v":0.01306},{"t":21.2,"v":0.01315},{"t":21.32,"v":0.01315},{"t":21.44,"v":0.01306},{"t":21.57,"v":0.01298},{"t":21.69,"v":0.01306},{"t":21.81,"v":0.01298},{"t":21.94,"v":0.01289},{"t":22.06,"v":0.01281},{"t":22.19,"v":0.01255},{"t":22.31,"v":0.01281},{"t":22.43,"v":0.01289},{"t":22.56,"v":0.01298},{"t":22.68,"v":0.01315},{"t":22.8,"v":0.01315},{"t":22.93,"v":0.01331},{"t":23.05,"v":0.0134},{"t":23.17,"v":0.01323},{"t":23.3,"v":0.01331},{"t":23.42,"v":0.01323},{"t":23.55,"v":0.01323},{"t":23.71,"v":0.01298}],
"stage":[{"t":0,"v":5},{"t":1.04,"v":3},{"t":2.52,"v":2},{"t":5.47,"v":1},{"t":7.96,"v":2},{"t":9.47,"v":1},{"t":11.97,"v":0},{"t":23.77,"v":0}]
},
"vconcat":[
{"height":116,"width":961,
"encoding":{"x":{"field":"t","type":"quantitative","scale":{"domain":[0,23.77],"nice":false,"zero":false},"axis":null},
 "y":{"field":"v","type":"quantitative","scale":{"domain":[92.51,101],"nice":false,"zero":false},"axis":{"title":"SaO₂ (%)","values":[95,97,99,101],"format":"d","titleY":39,"titleColor":"#000080"}}},
"layer":[
{"data":{"values":[{"t":0,"t2":1.02,"v":92.51,"v2":101}]},"mark":{"type":"rect","color":"#FFFF99"},"encoding":{"x2":{"field":"t2"},"y2":{"field":"v2"}}},
{"data":{"values":[{"t":0,"v":95,"v2":101}]},"mark":{"type":"rule","color":"#000","strokeWidth":1.2,"xOffset":-2},"encoding":{"y2":{"field":"v2"}}},
{"data":{"name":"sao2"},"mark":{"type":"line","color":"#000080","strokeWidth":4,"interpolate":"step-after"}},
{"data":{"values":[{"t":0.47,"v":104.4,"label":"Wake"},{"t":2.82,"v":103.1,"label":"Sleep"}]},"mark":{"type":"text","font":"Liberation Serif","fontSize":27,"color":"#000","align":"center","baseline":"middle"},"encoding":{"text":{"field":"label"}}},
{"data":{"values":[{"t":0.47,"v":103.7,"t2":0.47,"v2":101.6},{"t":1.29,"v":101.75,"t2":4.5,"v2":101.75}]},"mark":{"type":"rule","color":"#000","strokeWidth":1.8},"encoding":{"x2":{"field":"t2"},"y2":{"field":"v2"}}},
{"data":{"values":[{"t":0.47,"v":101.6,"dir":"down"},{"t":4.5,"v":101.75,"dir":"right"}]},"mark":{"type":"point","filled":true,"color":"#000","opacity":1,"size":170},"encoding":{"shape":{"field":"dir","type":"nominal","scale":{"domain":["down","up","right"],"range":["triangle-down","triangle-up","triangle-right"]},"legend":null}}}
]},
{"height":114,"width":961,
"encoding":{"x":{"field":"t","type":"quantitative","scale":{"domain":[0,23.77],"nice":false,"zero":false},"axis":null},
 "y":{"field":"v","type":"quantitative","scale":{"domain":[51.85,80],"nice":false,"zero":false},"axis":{"title":["Heart rate","(min⁻¹)"],"values":[60,70,80],"format":"d","titleY":22,"titleLineHeight":34,"titleColor":"#000080"}}},
"layer":[
{"data":{"values":[{"t":0,"t2":1.02,"v":51.85,"v2":80}]},"mark":{"type":"rect","color":"#FFFF99"},"encoding":{"x2":{"field":"t2"},"y2":{"field":"v2"}}},
{"data":{"values":[{"t":0,"v":60,"v2":80}]},"mark":{"type":"rule","color":"#000","strokeWidth":1.2,"xOffset":-2},"encoding":{"y2":{"field":"v2"}}},
{"data":{"name":"hr"},"mark":{"type":"line","color":"#000080","strokeWidth":4.5}}
]},
{"height":113,"width":961,
"encoding":{"x":{"field":"t","type":"quantitative","scale":{"domain":[0,23.77],"nice":false,"zero":false},"axis":null},
 "y":{"field":"v","type":"quantitative","scale":{"domain":[-41.85,0],"nice":false,"zero":false},"axis":{"title":"Respiration","values":[-30,-20,-10,0],"format":"d","titleY":38,"titleColor":"#000080"}}},
"layer":[
{"data":{"values":[{"t":0,"t2":1.02,"v":-41.85,"v2":0}]},"mark":{"type":"rect","color":"#FFFF99"},"encoding":{"x2":{"field":"t2"},"y2":{"field":"v2"}}},
{"data":{"values":[{"t":0,"v":-30,"v2":0}]},"mark":{"type":"rule","color":"#000","strokeWidth":1.2,"xOffset":-2},"encoding":{"y2":{"field":"v2"}}},
{"data":{"name":"resp"},"mark":{"type":"line","color":"#000080","strokeWidth":1}}
]},
{"height":114,"width":961,
"encoding":{"x":{"field":"t","type":"quantitative","scale":{"domain":[0,23.77],"nice":false,"zero":false},"axis":null},
 "y":{"field":"v","type":"quantitative","scale":{"domain":[53.74,65],"nice":false,"zero":false},"axis":{"title":"StO₂ (%)","values":[57,61,65],"format":"d","titleY":38,"titleColor":"#008000"}}},
"layer":[
{"data":{"values":[{"t":0,"t2":1.02,"v":53.74,"v2":65}]},"mark":{"type":"rect","color":"#FFFF99"},"encoding":{"x2":{"field":"t2"},"y2":{"field":"v2"}}},
{"data":{"values":[{"t":0,"v":57,"v2":65}]},"mark":{"type":"rule","color":"#000","strokeWidth":1.2,"xOffset":-2},"encoding":{"y2":{"field":"v2"}}},
{"data":{"name":"sto2"},"mark":{"type":"line","color":"#008000","strokeWidth":4.5}},
{"data":{"values":[{"t":3.19,"v":63.0,"label":"StO"},{"t":17.49,"v":59.0,"label":"StO"}]},"mark":{"type":"text","font":"Liberation Serif","fontSize":30,"color":"#008000","align":"left","baseline":"middle"},"encoding":{"text":{"field":"label"}}},
{"data":{"values":[{"t":4.4,"v":62.2,"label":"2"},{"t":18.67,"v":58.1,"label":"2"}]},"mark":{"type":"text","font":"Liberation Serif","fontSize":21,"color":"#008000","align":"left","baseline":"middle"},"encoding":{"text":{"field":"label"}}},
{"data":{"values":[{"t":5.47,"v":64.9,"t2":5.47,"v2":61.8},{"t":19.61,"v":57.3,"t2":19.61,"v2":60.2}]},"mark":{"type":"rule","color":"#008000","strokeWidth":2},"encoding":{"x2":{"field":"t2"},"y2":{"field":"v2"}}},
{"data":{"values":[{"t":5.47,"v":61.8,"dir":"down"},{"t":19.61,"v":60.2,"dir":"up"}]},"mark":{"type":"point","filled":true,"color":"#008000","opacity":1,"size":170},"encoding":{"shape":{"field":"dir","type":"nominal","scale":{"domain":["down","up","right"],"range":["triangle-down","triangle-up","triangle-right"]},"legend":null}}}
]},
{"height":114,"width":961,
"encoding":{"x":{"field":"t","type":"quantitative","scale":{"domain":[0,23.77],"nice":false,"zero":false},"axis":null},
 "y":{"field":"v","type":"quantitative","scale":{"domain":[0.02937,0.035],"nice":false,"zero":false},"axis":{"title":["[Hb]ₜₒₜₐₗ","(mM)"],"values":[0.031,0.033,0.035],"format":".3~f","titleY":27,"titleLineHeight":29,"titleColor":"#800080"}}},
"layer":[
{"data":{"values":[{"t":0,"t2":1.02,"v":0.02937,"v2":0.035}]},"mark":{"type":"rect","color":"#FFFF99"},"encoding":{"x2":{"field":"t2"},"y2":{"field":"v2"}}},
{"data":{"values":[{"t":0,"v":0.031,"v2":0.035}]},"mark":{"type":"rule","color":"#000","strokeWidth":1.2,"xOffset":-2},"encoding":{"y2":{"field":"v2"}}},
{"data":{"name":"hbt"},"mark":{"type":"line","color":"#800080","strokeWidth":4.5}},
{"data":{"values":[{"t":3.26,"v":0.03421,"label":"Hb"},{"t":17.49,"v":0.03194,"label":"Hb"}]},"mark":{"type":"text","font":"Liberation Serif","fontSize":30,"color":"#800080","align":"left","baseline":"middle"},"encoding":{"text":{"field":"label"}}},
{"data":{"values":[{"t":4.16,"v":0.03372,"label":"total"},{"t":18.4,"v":0.03135,"label":"total"}]},"mark":{"type":"text","font":"Liberation Serif","fontSize":21,"color":"#800080","align":"left","baseline":"middle"},"encoding":{"text":{"field":"label"}}},
{"data":{"values":[{"t":5.37,"v":0.03431,"t2":6.1,"v2":0.03431},{"t":19.69,"v":0.03105,"t2":19.69,"v2":0.03268}]},"mark":{"type":"rule","color":"#800080","strokeWidth":2},"encoding":{"x2":{"field":"t2"},"y2":{"field":"v2"}}},
{"data":{"values":[{"t":6.1,"v":0.03431,"dir":"right"},{"t":19.69,"v":0.03268,"dir":"up"}]},"mark":{"type":"point","filled":true,"color":"#800080","opacity":1,"size":170},"encoding":{"shape":{"field":"dir","type":"nominal","scale":{"domain":["down","up","right"],"range":["triangle-down","triangle-up","triangle-right"]},"legend":null}}}
]},
{"height":114,"width":961,
"encoding":{"x":{"field":"t","type":"quantitative","scale":{"domain":[0,23.77],"nice":false,"zero":false},"axis":null},
 "y":{"field":"v","type":"quantitative","scale":{"domain":[0.01637,0.022],"nice":false,"zero":false},"axis":{"title":["[HbO₂]","(mM)"],"values":[0.018,0.02,0.022],"format":".3~f","titleY":25,"titleLineHeight":33,"titleColor":"#FF0000"}}},
"layer":[
{"data":{"values":[{"t":0,"t2":1.02,"v":0.01637,"v2":0.022}]},"mark":{"type":"rect","color":"#FFFF99"},"encoding":{"x2":{"field":"t2"},"y2":{"field":"v2"}}},
{"data":{"values":[{"t":0,"v":0.018,"v2":0.022}]},"mark":{"type":"rule","color":"#000","strokeWidth":1.2,"xOffset":-2},"encoding":{"y2":{"field":"v2"}}},
{"data":{"name":"hbo2"},"mark":{"type":"line","color":"#FF0000","strokeWidth":4.5}},
{"data":{"values":[{"t":3.09,"v":0.02096,"label":"HbO"},{"t":17.41,"v":0.01894,"label":"HbO"}]},"mark":{"type":"text","font":"Liberation Serif","fontSize":30,"color":"#FF0000","align":"left","baseline":"middle"},"encoding":{"text":{"field":"label"}}},
{"data":{"values":[{"t":4.5,"v":0.02052,"label":"2"},{"t":18.85,"v":0.01854,"label":"2"}]},"mark":{"type":"text","font":"Liberation Serif","fontSize":21,"color":"#FF0000","align":"left","baseline":"middle"},"encoding":{"text":{"field":"label"}}},
{"data":{"values":[{"t":5.37,"v":0.0219,"t2":5.37,"v2":0.0204},{"t":19.61,"v":0.01835,"t2":19.61,"v2":0.01978}]},"mark":{"type":"rule","color":"#FF0000","strokeWidth":2},"encoding":{"x2":{"field":"t2"},"y2":{"field":"v2"}}},
{"data":{"values":[{"t":5.37,"v":0.0204,"dir":"down"},{"t":19.61,"v":0.01978,"dir":"up"}]},"mark":{"type":"point","filled":true,"color":"#FF0000","opacity":1,"size":170},"encoding":{"shape":{"field":"dir","type":"nominal","scale":{"domain":["down","up","right"],"range":["triangle-down","triangle-up","triangle-right"]},"legend":null}}}
]},
{"height":105,"width":961,
"encoding":{"x":{"field":"t","type":"quantitative","scale":{"domain":[0,23.77],"nice":false,"zero":false},"axis":null},
 "y":{"field":"v","type":"quantitative","scale":{"domain":[0.00975,0.015],"nice":false,"zero":false},"axis":{"title":["[Hb]","(mM)"],"values":[0.011,0.013,0.015],"format":".3~f","titleY":25,"titleLineHeight":30,"titleColor":"#0000FF"}}},
"layer":[
{"data":{"values":[{"t":0,"t2":1.02,"v":0.00975,"v2":0.015}]},"mark":{"type":"rect","color":"#FFFF99"},"encoding":{"x2":{"field":"t2"},"y2":{"field":"v2"}}},
{"data":{"values":[{"t":0,"v":0.011,"v2":0.015}]},"mark":{"type":"rule","color":"#000","strokeWidth":1.2,"xOffset":-2},"encoding":{"y2":{"field":"v2"}}},
{"data":{"name":"hb"},"mark":{"type":"line","color":"#0000FF","strokeWidth":4.5}},
{"data":{"values":[{"t":3.36,"v":0.01185,"label":"Hb"},{"t":17.56,"v":0.01385,"label":"Hb"}]},"mark":{"type":"text","font":"Liberation Serif","fontSize":30,"color":"#0000FF","align":"left","baseline":"middle"},"encoding":{"text":{"field":"label"}}},
{"data":{"values":[{"t":4.75,"v":0.0111,"t2":4.75,"v2":0.0126},{"t":18.97,"v":0.0149,"t2":18.97,"v2":0.0135}]},"mark":{"type":"rule","color":"#0000FF","strokeWidth":2},"encoding":{"x2":{"field":"t2"},"y2":{"field":"v2"}}},
{"data":{"values":[{"t":4.75,"v":0.0126,"dir":"up"},{"t":18.97,"v":0.0135,"dir":"down"}]},"mark":{"type":"point","filled":true,"color":"#0000FF","opacity":1,"size":170},"encoding":{"shape":{"field":"dir","type":"nominal","scale":{"domain":["down","up","right"],"range":["triangle-down","triangle-up","triangle-right"]},"legend":null}}}
]},
{"height":93,"width":961,
"encoding":{"x":{"field":"t","type":"quantitative","scale":{"domain":[0,23.77],"nice":false,"zero":false},"axis":{"values":[0,3,6,9,12,15,18,21],"labelExpr":"['23:51','23:54','23:57','0:00','0:03','0:06','0:09','0:12'][round(datum.value/3)]","title":"Time (hh:mm)","grid":false,"domain":true,"domainColor":"#000","domainWidth":1.5,"ticks":true,"tickSize":10,"tickColor":"#000","tickWidth":1.5,"labelFont":"Liberation Sans","labelFontSize":27,"labelColor":"#000","labelPadding":14,"labelFlush":false,"labelOverlap":false,"titleFont":"Liberation Sans","titleFontSize":27,"titleFontWeight":"bold","titleColor":"#000","titlePadding":2}},
 "y":{"field":"v","type":"quantitative","scale":{"domain":[-1,5],"nice":false,"zero":false},"axis":{"title":["Sleep","staging"],"values":[0,1,2,3,4,5],"labelExpr":"['IV','III','II','I','REM','WAKE'][datum.value]","labelFont":"Liberation Serif","labelFontWeight":"bold","labelFontSize":16,"labelOverlap":false,"labelBaseline":"middle","titleY":26,"titleLineHeight":31,"titleColor":"#000080"}}},
"layer":[
{"data":{"values":[{"t":0,"t2":1.02,"v":-1,"v2":5}]},"mark":{"type":"rect","color":"#FFFF99"},"encoding":{"x2":{"field":"t2"},"y2":{"field":"v2"}}},
{"data":{"values":[{"t":0,"v":-1,"v2":5}]},"mark":{"type":"rule","color":"#000","strokeWidth":1.2,"xOffset":-1},"encoding":{"y2":{"field":"v2"}}},
{"data":{"name":"stage"},"mark":{"type":"line","color":"#000080","strokeWidth":3.5,"interpolate":"step-after"}}
]}
],
"spacing":0,
"bounds":"flush",
"config":{
"view":{"stroke":null},
"axisY":{"labelFont":"Liberation Sans","labelFontSize":14,"labelColor":"#000","ticks":true,"tickSize":4,"tickColor":"#000","domain":false,"grid":true,"gridColor":"#000","gridDash":[7,5],"gridWidth":1,"labelPadding":3,"titleAngle":0,"titleAlign":"center","titleBaseline":"middle","titleFont":"DejaVu Sans","titleFontWeight":"bold","titleFontSize":23,"titleX":-137}
}
}
